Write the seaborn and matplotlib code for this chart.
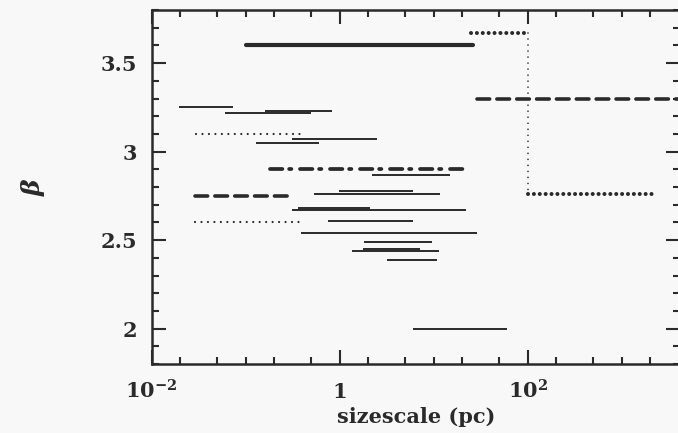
import matplotlib
matplotlib.use("Agg")
import matplotlib.pyplot as plt
from matplotlib.ticker import FixedLocator, FixedFormatter, MultipleLocator, NullFormatter
import seaborn as sns

# Thin solid segments: sizescale range (pc) and beta
thin_lo = [0.0195, 0.060, 0.16, 0.31, 0.13, 2.2, 0.98, 0.53, 0.31, 0.36, 0.75, 0.39, 1.8, 1.34, 1.76, 3.2, 6.1]
thin_hi = [0.073, 0.50, 0.84, 2.5, 0.61, 14.8, 6.0, 11.6, 22, 2.1, 6.1, 29, 9.5, 11.3, 7.1, 10.8, 61]
thin_beta = [3.25, 3.22, 3.23, 3.07, 3.05, 2.87, 2.78, 2.76, 2.67, 2.68, 2.61, 2.54, 2.49, 2.44, 2.45, 2.39, 2.00]

# Thin dotted segments
dotted_lo = [0.030, 0.029]
dotted_hi = [0.40, 0.40]
dotted_beta = [3.10, 2.60]

# Heavy solid segment
thick_lo = [0.1]
thick_hi = [26]
thick_beta = [3.6]

# Heavy dashed segments
dashed_lo = [0.029, 29]
dashed_hi = [0.28, 4200]
dashed_beta = [2.75, 3.30]

# Heavy dash-dot segment
dashdot_lo = [0.18]
dashdot_hi = [23]
dashdot_beta = [2.90]

# Heavy dotted step (break near 100 pc)
step_x = [25, 100, 100, 2100]
step_beta = [3.67, 3.67, 2.76, 2.76]

# Axis ticks
x_major = [0.01, 1, 100]
x_major_labels = [r"10$^{-2}$", "1", r"10$^{2}$"]
x_minor = [0.02, 0.05, 0.1, 0.2, 0.5, 2, 5, 10, 20, 50, 200, 500, 1000, 2000]
y_major = [2, 2.5, 3, 3.5]
y_major_labels = ["2", "2.5", "3", "3.5"]

INK = "#2a2a2a"
BG = "#f8f8f8"

sns.set_style("ticks")
plt.rcParams["font.family"] = ["DejaVu Serif"]
plt.rcParams["font.weight"] = "bold"
plt.rcParams["mathtext.fontset"] = "custom"
plt.rcParams["mathtext.rm"] = "DejaVu Serif:bold"
plt.rcParams["mathtext.it"] = "DejaVu Serif:italic:bold"
plt.rcParams["mathtext.bf"] = "DejaVu Serif:bold"
plt.rcParams["mathtext.default"] = "rm"

fig = plt.figure(figsize=(6.78, 4.33), dpi=100, facecolor=BG)
ax = fig.add_axes([151.5 / 678, 69 / 433, 528.5 / 678, 354 / 433])
ax.set_facecolor(BG)
ax.set_xscale("log")
ax.set_xlim(0.01, 10 ** 3.62)
ax.set_ylim(1.8, 3.8)


def segment(x0, x1, b, **kw):
    sns.lineplot(x=[x0, x1], y=[b, b], ax=ax, estimator=None, sort=False,
                 color=INK, **kw)


for lo, hi, b in zip(thin_lo, thin_hi, thin_beta):
    segment(lo, hi, b, linewidth=1.4, solid_capstyle="butt")

for lo, hi, b in zip(dotted_lo, dotted_hi, dotted_beta):
    segment(lo, hi, b, linewidth=1.6, linestyle=(0, (0.01, 2.9)),
            dash_capstyle="round")

for lo, hi, b in zip(thick_lo, thick_hi, thick_beta):
    segment(lo, hi, b, linewidth=3.0, solid_capstyle="round")

for lo, hi, b in zip(dashed_lo, dashed_hi, dashed_beta):
    segment(lo, hi, b, linewidth=2.6, linestyle=(0, (3.5, 2.0)),
            dash_capstyle="round")

for lo, hi, b in zip(dashdot_lo, dashdot_hi, dashdot_beta):
    segment(lo, hi, b, linewidth=2.7, linestyle=(0, (3.3, 1.8, 0.6, 2.3)),
            dash_capstyle="round")

# step: heavy dotted horizontal legs joined by a light dotted riser
for i in (0, 2):
    sns.lineplot(x=step_x[i:i + 2], y=step_beta[i:i + 2], ax=ax, estimator=None,
                 sort=False, color=INK, linewidth=2.9,
                 linestyle=(0, (0.01, 1.45)), dash_capstyle="round")
sns.lineplot(x=step_x[1:3], y=step_beta[1:3], ax=ax, estimator=None, sort=False,
             color=INK, linewidth=1.2, linestyle=(0, (0.01, 3.6)),
             dash_capstyle="round")

# ticks
ax.xaxis.set_major_locator(FixedLocator(x_major))
ax.xaxis.set_major_formatter(FixedFormatter(x_major_labels))
ax.xaxis.set_minor_locator(FixedLocator(x_minor))
ax.xaxis.set_minor_formatter(NullFormatter())
ax.yaxis.set_major_locator(FixedLocator(y_major))
ax.yaxis.set_major_formatter(FixedFormatter(y_major_labels))
ax.yaxis.set_minor_locator(MultipleLocator(0.1))
ax.yaxis.set_minor_formatter(NullFormatter())

ax.tick_params(which="both", direction="in", top=True, right=True,
               color=INK, width=1.5, labelcolor=INK, labelsize=15)
ax.tick_params(which="major", length=10)
ax.tick_params(which="minor", length=5)
ax.tick_params(axis="x", which="major", pad=24.5)
ax.tick_params(axis="y", which="major", pad=10.4)
for lab in ax.get_xticklabels():
    lab.set_verticalalignment("baseline")

for sp in ax.spines.values():
    sp.set_color(INK)
    sp.set_linewidth(1.8)

ax.set_xlabel("sizescale (pc)", fontsize=15, color=INK, fontweight="bold")
ax.set_ylabel(r"$\mathit{\beta}$", fontsize=18, color=INK)
ax.xaxis.set_label_coords(0.5, -0.121)
ax.yaxis.set_label_coords(-0.224, 0.5)
ax.xaxis.label.set_verticalalignment("top")
ax.yaxis.label.set_verticalalignment("center")

fig.savefig("out.png", dpi=100, facecolor=BG)
